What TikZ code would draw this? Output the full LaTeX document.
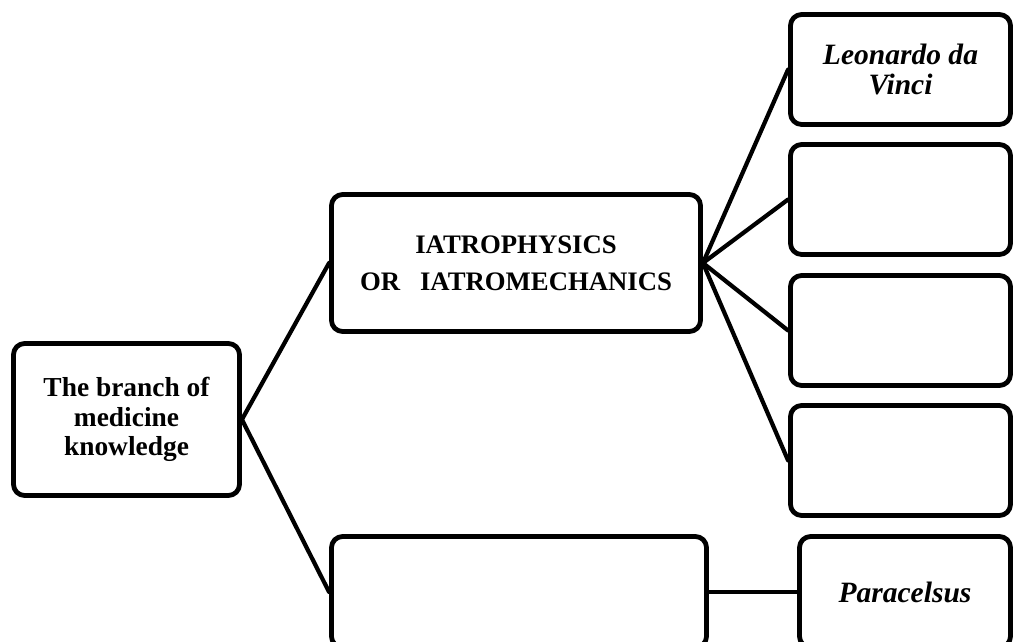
\documentclass[tikz,border=0pt]{standalone}
\usepackage{fontspec}
\usepackage{tikz}
\setmainfont{Liberation Serif}
\usetikzlibrary{calc}
\definecolor{bbbbbb}{rgb}{0.,0.,0.}
\tikzstyle{every node}=[font=\bfseries]
\tikzstyle{box}=[draw=bbbbbb,line width=3.4pt,rounded corners=8pt,fill=white,align=center,inner sep=0pt]
\tikzstyle{link}=[line width=3pt,color=bbbbbb]

\begin{document}
\begin{tikzpicture}[line cap=round,line join=round,x=0.025cm,y=-0.025cm]
            \useasboundingbox (0,0) rectangle (1015,642);
            \clip (0,0) rectangle (1015,642);
            % left column
            \node[box,minimum width=5.65cm,minimum height=3.8cm,font=\bfseries\fontsize{19.5}{20.8}\selectfont] (branch) at (126.5,419.5) {The branch of\\medicine\\knowledge};
            % middle column
            \node[box,minimum width=9.225cm,minimum height=3.425cm,font=\bfseries\fontsize{19}{26.5}\selectfont] (iatro) at (516,263) {IATROPHYSICS\\OR\ \ \ IATROMECHANICS};
            \node[box,minimum width=9.375cm,minimum height=2.775cm] (other) at (519,592) {};
            % right column
            \node[box,minimum width=5.5cm,minimum height=2.75cm,font=\bfseries\itshape\fontsize{21}{21.5}\selectfont] (vinci) at (900.5,69.5) {Leonardo da\\Vinci};
            \node[box,minimum width=5.5cm,minimum height=2.75cm] (empty1) at (900.5,199.5) {};
            \node[box,minimum width=5.5cm,minimum height=2.75cm] (empty2) at (900.5,330.5) {};
            \node[box,minimum width=5.5cm,minimum height=2.75cm] (empty3) at (900.5,460.5) {};
            \node[box,minimum width=5.275cm,minimum height=2.775cm,font=\bfseries\itshape\fontsize{21}{21.5}\selectfont] (paracelsus) at (905,592) {Paracelsus};
            % connectors
            \draw[link] (branch.east) -- (iatro.west);
            \draw[link] (branch.east) -- (other.west);
            \foreach \t in {vinci,empty1,empty2,empty3}
            \draw[link] (iatro.east) -- (\t.west);
            \draw[link] (other.east) -- (paracelsus.west);
\end{tikzpicture}
\end{document}
